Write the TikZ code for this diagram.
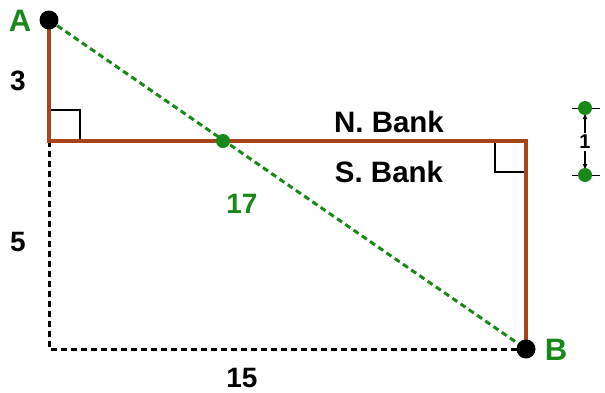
\documentclass[tikz,border=0pt]{standalone}
\usepackage{fontspec}
\setmainfont{Liberation Sans}
\usetikzlibrary{arrows.meta}
\definecolor{bankbrown}{RGB}{166,68,24}
\definecolor{pathgreen}{RGB}{24,136,24}

\begin{document}
\begin{tikzpicture}[x=1pt,y=-1pt]
\tikzstyle{every node}+=[inner sep=0pt,font=\bfseries]
\tikzstyle{bank}=[bankbrown,line width=4.5pt]
\tikzstyle{aux}=[black,line width=3pt,dash pattern=on 6pt off 4pt]
\tikzstyle{cross}=[pathgreen,line width=3pt,dash pattern=on 6pt off 4pt]
\tikzstyle{lbl}=[font=\bfseries\fontsize{28}{30}\selectfont]
\tikzstyle{ptlbl}=[pathgreen,font=\bfseries\fontsize{31}{33}\selectfont]
\useasboundingbox (0,0) rectangle (605,392);
% points
\coordinate (A) at (49,20);
\coordinate (NW) at (49,141);
\coordinate (NE) at (526,141);
\coordinate (B) at (526,349);
\coordinate (SW) at (49,349);
\coordinate (X) at (223,141);
% right angles
\draw [black,line width=1.2pt] (49,110) -- (80,110) -- (80,141);
\draw [black,line width=1.2pt] (495,141) -- (495,172) -- (526,172);
% dashed helpers
\draw [aux] (NW) -- (SW) -- (B);
% river banks
\draw [bank] (A) -- (NW) -- (NE) -- (B);
\draw [cross] (A) -- (B);
\fill [black] (A) circle (9.5);
\fill [black] (B) circle (9.5);
\fill [pathgreen] (X) circle (7);
% labels
\node [ptlbl] (labA) at (20,21) {A};
\node [ptlbl] (labB) at (556,350) {B};
\node [lbl] (l3) at (18,81) {3};
\node [lbl] (l5) at (18,242) {5};
\node [lbl] (l15) at (242,378) {15};
\node [lbl,pathgreen] (l17) at (242,204) {17};
\node [lbl,font=\bfseries\fontsize{29.5}{31}\selectfont] (nb) at (389,122) {N. Bank};
\node [lbl,font=\bfseries\fontsize{29.5}{31}\selectfont] (sb) at (389,172) {S. Bank};
% width of river
\coordinate (t1) at (572,108);
\coordinate (t2) at (600,108);
\coordinate (t3) at (572,175);
\coordinate (t4) at (600,175);
\draw [black,line width=0.8pt] (t1) -- (t2);
\draw [black,line width=0.8pt] (t3) -- (t4);
\node [font=\bfseries\fontsize{20}{22}\selectfont] (one) at (585,142) {1};
\draw [-{Latex[length=6pt,width=5pt]},line width=1.2pt] (one.north) ++(0,-2) -- (585,113);
\draw [-{Latex[length=6pt,width=5pt]},line width=1.2pt] (one.south) ++(0,2) -- (585,170);
\fill [pathgreen] (585,108) circle (7);
\fill [pathgreen] (585,175) circle (7);
\end{tikzpicture}
\end{document}
